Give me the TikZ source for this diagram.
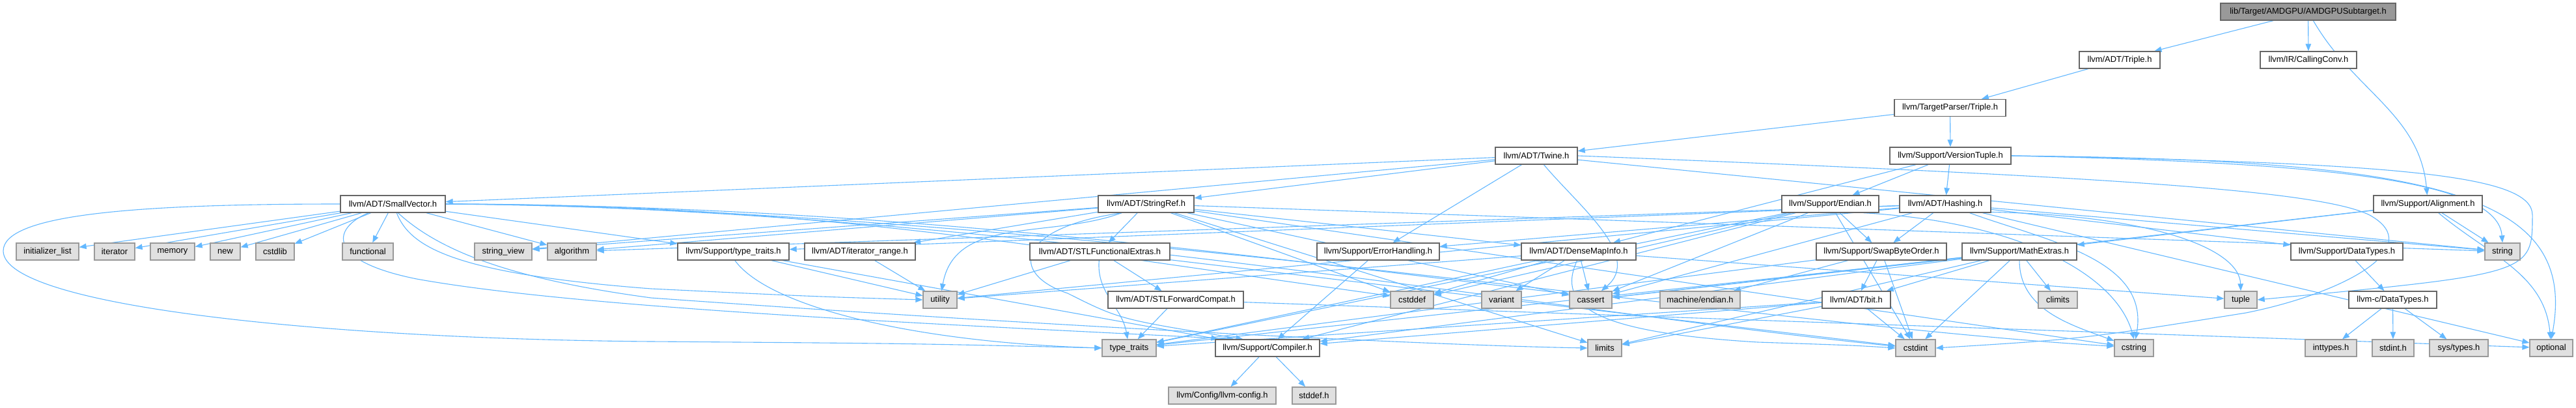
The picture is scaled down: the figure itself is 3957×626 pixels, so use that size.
\documentclass[tikz,border=0pt]{standalone}
\usepackage{fontspec}
\setmainfont{Liberation Sans}
\usetikzlibrary{arrows.meta}
\pgfdeclarelayer{bgzero}
\pgfdeclarelayer{background}
\pgfsetlayers{bgzero,background,main}
\definecolor{edgec}{HTML}{63B8FF}
\definecolor{extfill}{HTML}{E0E0E0}
\definecolor{gA}{HTML}{666666}
\definecolor{gB}{HTML}{999999}
\tikzset{
 base/.style={rectangle, minimum height=26bp, inner sep=0pt, font=\fontsize{13}{15}\selectfont, line width=1.3bp},
 doc/.style={base, draw=gA, fill=white},
 ext/.style={base, draw=gB, fill=extfill},
 rootn/.style={base, draw=gA, fill=gB},
 e/.style={draw=edgec, line width=1.1bp, -{Triangle[length=11bp,width=8.5bp]}},
}
\begin{document}
\begin{tikzpicture}[x=1bp,y=1bp]
\begin{pgfonlayer}{bgzero}
\fill[white] (0,0) rectangle (3957,-626);
\end{pgfonlayer}
\useasboundingbox (0,0) rectangle (3957,-626);
% nodes
\node[rootn, minimum width=269bp] (root) at (3545.5,-18) {lib/Target/AMDGPU/AMDGPUSubtarget.h};
\node[doc, minimum width=124bp] (triple) at (3256,-92) {llvm/ADT/Triple.h};
\node[doc, minimum width=148bp] (callconv) at (3546,-92) {llvm/IR/CallingConv.h};
\node[doc, minimum width=171bp] (tptriple) at (2995.5,-165.5) {llvm/TargetParser/Triple.h};
\node[doc, minimum width=126bp] (twine) at (2360,-239) {llvm/ADT/Twine.h};
\node[doc, minimum width=186bp] (vtuple) at (2996,-239) {llvm/Support/VersionTuple.h};
\node[doc, minimum width=161bp] (smallvec) at (603.5,-313) {llvm/ADT/SmallVector.h};
\node[doc, minimum width=147bp] (stringref) at (1760.5,-313) {llvm/ADT/StringRef.h};
\node[doc, minimum width=149bp] (endian) at (2811.5,-313) {llvm/Support/Endian.h};
\node[doc, minimum width=140bp] (hashing) at (2988,-313) {llvm/ADT/Hashing.h};
\node[doc, minimum width=167bp] (align) at (3729.5,-313) {llvm/Support/Alignment.h};
\node[ext, minimum width=96bp] (initlist) at (73,-386) {initializer\_list};
\node[ext, minimum width=62bp] (iterator) at (176,-386) {iterator};
\node[ext, minimum width=68bp] (memory) at (265,-386) {memory};
\node[ext, minimum width=46bp] (new) at (346,-386) {new};
\node[ext, minimum width=59bp] (cstdlib) at (422.5,-386) {cstdlib};
\node[ext, minimum width=78bp] (functional) at (565,-386) {functional};
\node[ext, minimum width=88bp] (stringview) at (773,-386) {string\_view};
\node[ext, minimum width=75bp] (algorithm) at (878.5,-386) {algorithm};
\node[doc, minimum width=171bp] (ttraitsh) at (1126.5,-386) {llvm/Support/type\_traits.h};
\node[doc, minimum width=170bp] (iterrange) at (1321,-386) {llvm/ADT/iterator\_range.h};
\node[doc, minimum width=215bp] (stlfunc) at (1689.5,-386) {llvm/ADT/STLFunctionalExtras.h};
\node[doc, minimum width=188bp] (errh) at (2117,-386) {llvm/Support/ErrorHandling.h};
\node[doc, minimum width=176bp] (densemap) at (2425,-386) {llvm/ADT/DenseMapInfo.h};
\node[doc, minimum width=200bp] (swapbyte) at (2890,-386) {llvm/Support/SwapByteOrder.h};
\node[doc, minimum width=176bp] (mathext) at (3102,-386) {llvm/Support/MathExtras.h};
\node[doc, minimum width=172bp] (datatypes) at (3605,-386) {llvm/Support/DataTypes.h};
\node[ext, minimum width=54bp] (string) at (3844,-386) {string};
\node[ext, minimum width=52bp] (utility) at (1444,-460) {utility};
\node[doc, minimum width=208bp] (stlfwd) at (1806,-460) {llvm/ADT/STLForwardCompat.h};
\node[ext, minimum width=66bp] (cstddef) at (2169,-460) {cstddef};
\node[ext, minimum width=61bp] (variant) at (2306.5,-460) {variant};
\node[ext, minimum width=65bp] (cassert) at (2443.5,-460) {cassert};
\node[ext, minimum width=123bp] (machendian) at (2611.5,-460) {machine/endian.h};
\node[doc, minimum width=105bp] (bit) at (2851.5,-460) {llvm/ADT/bit.h};
\node[ext, minimum width=60bp] (climits) at (3161,-460) {climits};
\node[ext, minimum width=50bp] (tuple) at (3442,-460) {tuple};
\node[doc, minimum width=135bp] (cdatatypes) at (3675.5,-460) {llvm-c/DataTypes.h};
\node[ext, minimum width=83bp] (ttraits) at (1734.5,-534) {type\_traits};
\node[doc, minimum width=160bp] (compiler) at (1947,-534) {llvm/Support/Compiler.h};
\node[ext, minimum width=52bp] (limits) at (2465,-534) {limits};
\node[ext, minimum width=61bp] (cstdint) at (2942.5,-534) {cstdint};
\node[ext, minimum width=60bp] (cstring) at (3278,-534) {cstring};
\node[ext, minimum width=79bp] (inttypes) at (3580.5,-534) {inttypes.h};
\node[ext, minimum width=64bp] (stdinth) at (3676,-534) {stdint.h};
\node[ext, minimum width=90bp] (systypes) at (3777,-534) {sys/types.h};
\node[ext, minimum width=66bp] (optional) at (3919,-534) {optional};
\node[ext, minimum width=165bp] (llvmconfig) at (1877.5,-607) {llvm/Config/llvm-config.h};
\node[ext, minimum width=67bp] (stddefh) at (2018.5,-607) {stddef.h};
% edges
\begin{pgfonlayer}{background}
\draw[e] (root) -- (triple);
\draw[e] (root) -- (callconv);
\draw[e] (root) to[out=-60,in=95] (align);
\draw[e] (triple) -- (tptriple);
\draw[e] (tptriple) -- (twine);
\draw[e] (tptriple) -- (vtuple);
% Twine
\draw[e] (twine) -- (smallvec);
\draw[e] (twine) -- (stringref);
\draw[e] (twine) -- (stringview);
\draw[e] (twine) -- (errh);
\draw[e] (twine) to[out=-50,in=40] (cassert);
\draw[e] (twine) -- (string);
\draw[e] (twine.east) .. controls (3200,-270) and (3560,-290) .. (3640,-330) .. controls (3730,-380) and (3600,-450) .. (3450,-480) .. controls (3200,-520) .. (cstdint.east);
% VersionTuple
\draw[e] (vtuple) -- (hashing);
\draw[e] (vtuple) -- (endian);
\draw[e] (vtuple) -- (densemap);
\draw[e] (vtuple.east) .. controls (3600,-250) and (3837,-280) .. (string.north);
\draw[e] (vtuple.east) .. controls (3700,-250) and (3890,-270) .. (3890,-330) .. controls (3890,-420) .. (tuple.east);
\draw[e] (vtuple.east) .. controls (3750,-245) and (3960,-300) .. (optional.north);
% SmallVector
\draw[e] (smallvec) -- (initlist);
\draw[e] (smallvec) -- (iterator);
\draw[e] (smallvec) -- (memory);
\draw[e] (smallvec) -- (new);
\draw[e] (smallvec) -- (cstdlib);
\draw[e] (smallvec) -- (functional);
\draw[e] (smallvec) -- (algorithm);
\draw[e] (smallvec) -- (ttraitsh);
\draw[e] (smallvec.west) .. controls (200,-313) and (5,-330) .. (5,-385) .. controls (5,-470) and (500,-520) .. (1000,-524) .. controls (1400,-527) .. (ttraits.west);
\draw[e] (smallvec.200) .. controls (510,-350) and (500,-400) .. (640,-428) .. controls (900,-475) and (1500,-500) .. (compiler.165);
\draw[e] (smallvec.-67) .. controls (630,-380) and (700,-420) .. (1000,-443) .. controls (1250,-455) .. (utility.west);
\draw[e] (smallvec.-60) .. controls (680,-390) and (800,-430) .. (1000,-457) .. controls (1600,-500) and (2200,-530) .. (limits.west);
\draw[e] (smallvec.east) .. controls (1250,-313) and (1600,-380) .. (cstddef.170);
\draw[e] (smallvec.east) .. controls (1350,-315) and (1900,-390) .. (cassert.165);
\draw[e] (smallvec.east) .. controls (1500,-318) and (2400,-480) .. (cstdint.175);
\draw[e] (smallvec.east) .. controls (1600,-320) and (2700,-500) .. (cstring.175);
% StringRef
\draw[e] (stringref) -- (densemap);
\draw[e] (stringref) -- (stlfunc);
\draw[e] (stringref) -- (iterrange);
\draw[e] (stringref.200) .. controls (1560,-350) and (1550,-420) .. (1640,-450) .. controls (1720,-490) .. (compiler.160);
\draw[e] (stringref) to[out=200,in=80] (utility);
\draw[e] (stringref) -- (algorithm);
\draw[e] (stringref) -- (stringview);
\draw[e] (stringref) -- (cassert);
\draw[e] (stringref) -- (cstddef);
\draw[e] (stringref) -- (cstring);
\draw[e] (stringref) -- (limits);
\draw[e] (stringref) -- (string);
% STLFunctionalExtras etc
\draw[e] (stlfunc) -- (stlfwd);
\draw[e] (stlfunc) -- (utility);
\draw[e] (stlfunc) to[out=-95,in=100] (ttraits);
\draw[e] (stlfunc) -- (cstdint);
\draw[e] (stlfwd) -- (ttraits);
\draw[e] (stlfwd) -- (optional);
\draw[e] (iterrange) -- (utility);
\draw[e] (ttraitsh) -- (utility);
\draw[e] (ttraitsh) -- (compiler);
\draw[e] (ttraitsh.-80) .. controls (1180,-470) and (1400,-525) .. (ttraits.west);
\draw[e] (compiler) -- (llvmconfig);
\draw[e] (compiler) -- (stddefh);
\draw[e] (errh) -- (compiler);
% DenseMapInfo
\draw[e] (densemap) -- (cassert);
\draw[e] (densemap) -- (cstddef);
\draw[e] (densemap) -- (variant);
\draw[e] (densemap) -- (utility);
\draw[e] (densemap) -- (ttraits);
\draw[e] (densemap.-100) .. controls (2390,-470) and (2450,-510) .. (2700,-525) .. controls (2850,-530) .. (cstdint.west);
\draw[e] (densemap) -- (tuple);
% Hashing
\draw[e] (hashing) -- (datatypes);
\draw[e] (hashing) -- (errh);
\draw[e] (hashing) -- (swapbyte);
\draw[e] (hashing) -- (ttraitsh);
\draw[e] (hashing) -- (algorithm);
\draw[e] (hashing) -- (cassert);
\draw[e] (hashing) to[out=-20,in=80] (cstring);
\draw[e] (hashing) -- (optional);
\draw[e] (hashing) -- (string);
\draw[e] (hashing.-10) .. controls (3300,-330) and (3440,-380) .. (tuple.north);
\draw[e] (hashing) -- (utility);
% Endian
\draw[e] (endian) -- (compiler);
\draw[e] (endian) -- (swapbyte);
\draw[e] (endian) -- (cassert);
\draw[e] (endian) -- (cstddef);
\draw[e] (endian) -- (cstdint);
\draw[e] (endian.-15) .. controls (3100,-340) and (3250,-420) .. (cstring.north);
\draw[e] (endian) -- (ttraits);
% SwapByteOrder
\draw[e] (swapbyte) -- (bit);
\draw[e] (swapbyte) -- (cstdint);
\draw[e] (swapbyte) -- (ttraits);
\draw[e] (swapbyte) -- (machendian);
% bit
\draw[e] (bit) -- (compiler);
\draw[e] (bit) -- (cstdint);
\draw[e] (bit) -- (limits);
\draw[e] (bit) -- (ttraits);
% Alignment
\draw[e] (align) -- (mathext);
\draw[e] (align) -- (cassert);
\draw[e] (align) to[out=-40,in=95] (optional);
\draw[e] (align) -- (string);
% MathExtras
\draw[e] (mathext) -- (bit);
\draw[e] (mathext) -- (compiler);
\draw[e] (mathext) -- (cassert);
\draw[e] (mathext) -- (climits);
\draw[e] (mathext) -- (cstdint);
\draw[e] (mathext) to[out=-90,in=160] (cstring);
\draw[e] (mathext) -- (limits);
\draw[e] (mathext) -- (ttraits);
% DataTypes
\draw[e] (datatypes) -- (cdatatypes);
\draw[e] (cdatatypes) -- (inttypes);
\draw[e] (cdatatypes) -- (stdinth);
\draw[e] (cdatatypes) -- (systypes);
\end{pgfonlayer}
\end{tikzpicture}
\end{document}
